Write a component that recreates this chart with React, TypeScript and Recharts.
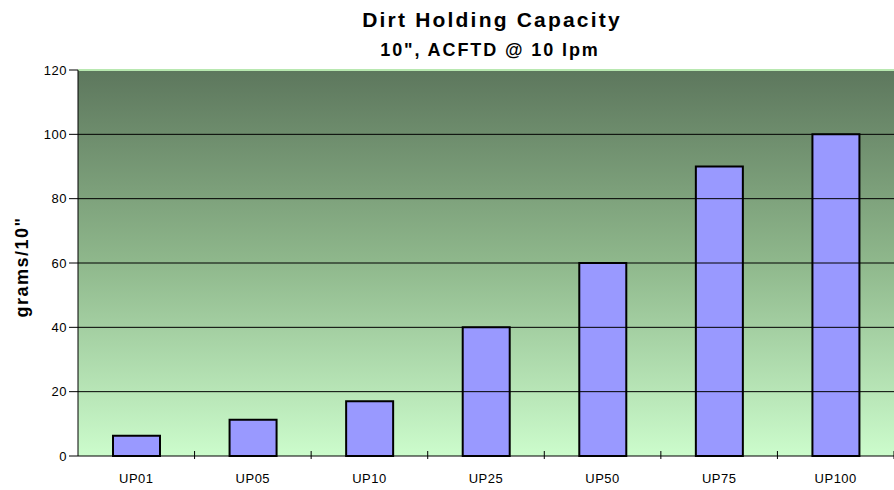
import React from "react"
import { BarChart, Bar, XAxis, YAxis, ReferenceArea, ReferenceLine } from "recharts"

const categories = ["UP01", "UP05", "UP10", "UP25", "UP50", "UP75", "UP100"]
const capacity = [6.3, 11.3, 17, 40, 60, 90, 100]
const yTicks = [0, 20, 40, 60, 80, 100, 120]
const gridValues = [20, 40, 60, 80, 100]

const data = categories.map((name, i) => ({ name, grams: capacity[i] }))

const W = 894
const H = 490
const LEFT = 78
const BOTTOM = 4
const XAXIS_H = 30
const AXIS_Y = H - BOTTOM - XAXIS_H
const BAND = (W - LEFT) / categories.length
const FONT = "'Liberation Sans', Arial, sans-serif"

// label at the category centre, tick mark at the right-hand category boundary
const CategoryTick = ({ x, payload }: any) => (
  <g>
    <line x1={x + BAND / 2} x2={x + BAND / 2} y1={AXIS_Y - 5} y2={AXIS_Y + 3} stroke="#000" strokeWidth={1} />
    <text
      x={x}
      y={AXIS_Y + 27}
      textAnchor="middle"
      fontSize={13}
      fontFamily={FONT}
      fill="#000"
      style={{ letterSpacing: 0.5 }}
    >
      {payload.value}
    </text>
  </g>
)

export default function App() {
  return (
    <div style={{ position: "absolute", left: 0, top: 0, width: W, height: H, background: "#fff" }}>
      <BarChart
        width={W}
        height={H}
        data={data}
        margin={{ top: 70, right: 0, bottom: BOTTOM, left: 0 }}
      >
        <defs>
          <linearGradient id="plotBg" x1="0" y1="0" x2="0" y2="1">
            <stop offset="0%" stopColor="#5d775d" />
            <stop offset="50%" stopColor="#8fb88c" />
            <stop offset="100%" stopColor="#ccfccc" />
          </linearGradient>
        </defs>
        <ReferenceArea y1={0} y2={120} fill="url(#plotBg)" fillOpacity={1} stroke="none" />
        {gridValues.map((v) => (
          <ReferenceLine key={v} y={v} stroke="#000" strokeWidth={1} />
        ))}
        <ReferenceLine y={120} stroke="#b8e8b0" strokeWidth={2} />
        <XAxis
          dataKey="name"
          height={XAXIS_H}
          axisLine={{ stroke: "#000" }}
          tickLine={false}
          tick={<CategoryTick />}
          interval={0}
        />
        <YAxis
          width={LEFT}
          domain={[0, 120]}
          ticks={yTicks}
          interval={0}
          tickSize={9}
          tickMargin={2}
          axisLine={{ stroke: "#000" }}
          tickLine={{ stroke: "#000" }}
          tick={{ fontSize: 13, fill: "#000", fontFamily: FONT, style: { letterSpacing: 0.5 } }}
        />
        <Bar dataKey="grams" fill="#9999ff" stroke="#000" strokeWidth={2} barSize={47} isAnimationActive={false} />
      </BarChart>
      <svg width={W} height={H} style={{ position: "absolute", left: 0, top: 0, pointerEvents: "none" }}>
        <text x={492} y={27} textAnchor="middle" fontFamily={FONT} fontWeight="bold" fontSize={21} style={{ letterSpacing: 2.2 }}>
          Dirt Holding Capacity
        </text>
        <text x={490} y={55.5} textAnchor="middle" fontFamily={FONT} fontWeight="bold" fontSize={18} style={{ letterSpacing: 1.9 }}>
          10", ACFTD @ 10 lpm
        </text>
        <text
          x={0}
          y={0}
          transform="translate(28 267) rotate(-90)"
          textAnchor="middle"
          fontFamily={FONT}
          fontWeight="bold"
          fontSize={18}
          style={{ letterSpacing: 1.5 }}
        >
          grams/10"
        </text>
      </svg>
    </div>
  )
}
